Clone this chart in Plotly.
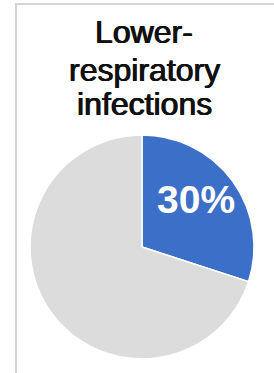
import plotly.graph_objects as go

W, H = 274, 373

# Data
labels = ["Lower-respiratory infections", "Other"]
values = [30, 70]
colors = ["#3B6FC8", "#DCDCDC"]
title_lines = ["Lower-", "respiratory", "infections"]

fig = go.Figure()
fig.add_trace(go.Pie(
    labels=labels,
    values=values,
    sort=False,
    direction="clockwise",
    rotation=0,
    marker=dict(colors=colors, line=dict(color="white", width=1.5)),
    textinfo="none",
    hoverinfo="label+percent",
    showlegend=False,
    domain=dict(x=[30 / W, 254 / W], y=[14 / H, 238 / H]),
))

def px(y_from_top):
    return 1 - y_from_top / H

# Title as three lines
title_y = [32, 69.5, 103.5]
for line, yy in zip(title_lines, title_y):
    fig.add_annotation(
        text=line, x=144 / W, y=px(yy), xref="paper", yref="paper",
        xanchor="center", yanchor="middle", showarrow=False,
        font=dict(family="Liberation Sans, Arial, sans-serif", size=32, color="#111111",
                  shadow="0.6px 0 0 #111111, -0.5px 0 0 #111111"),
    )

# Percentage label on the highlighted slice
fig.add_annotation(
    text=f"{values[0]}%", x=196 / W, y=px(199), xref="paper", yref="paper",
    xanchor="center", yanchor="middle", showarrow=False,
    font=dict(family="Liberation Sans, Arial, sans-serif", size=39, color="white", weight="bold"),
)

# Frame lines (top and left)
fig.add_shape(type="line", xref="paper", yref="paper",
              x0=16 / W, x1=16 / W, y0=0, y1=px(3.5),
              line=dict(color="#D4D4D4", width=2))
fig.add_shape(type="line", xref="paper", yref="paper",
              x0=15 / W, x1=1, y0=px(4), y1=px(4),
              line=dict(color="#D4D4D4", width=2))

fig.update_layout(
    width=W, height=H,
    margin=dict(l=0, r=0, t=0, b=0),
    paper_bgcolor="white", plot_bgcolor="white",
)

fig.write_html("out.html", config={"displayModeBar": False},
               post_script="document.body.style.margin='0';")
